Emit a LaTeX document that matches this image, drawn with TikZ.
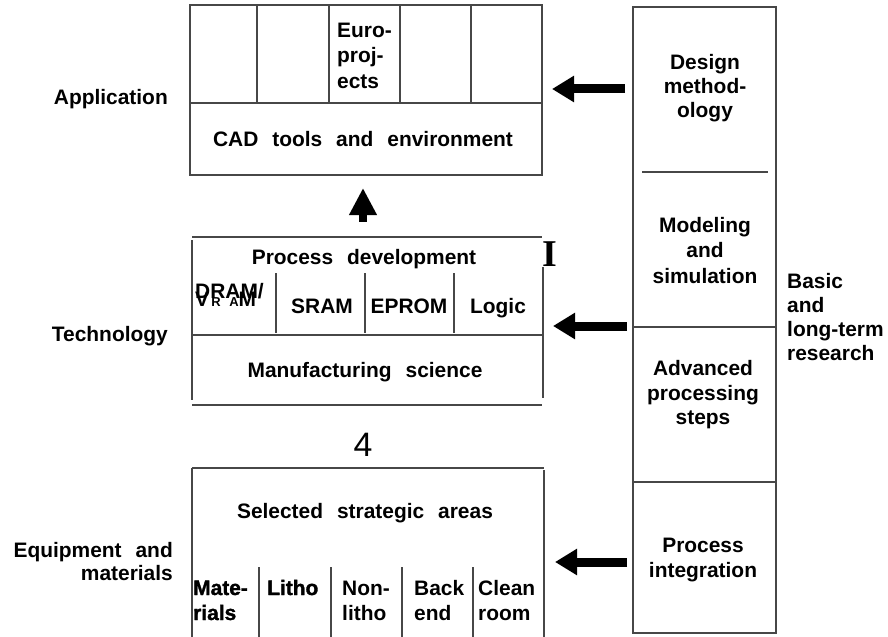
\documentclass[tikz,border=0pt]{standalone}
\usepackage{fontspec}
\setmainfont{Liberation Sans}[WordSpace=2.4]
\newfontfamily\serifbig{Liberation Serif}
\newfontfamily\plainsans{Liberation Sans}
\newfontfamily\heavysans{Liberation Sans Bold}[FakeBold=1.5]
\usetikzlibrary{arrows.meta}
\begin{document}
\begin{tikzpicture}[x=1bp,y=-1bp,
  ln/.style={draw=black!72, line width=1.3bp},
  txt/.style={font=\bfseries\fontsize{21}{25}\selectfont, inner sep=0pt, anchor=base},
  txtl/.style={txt, anchor=base west},
  txtr/.style={txt, anchor=base east},
  heavy/.style={txtl, font=\heavysans\fontsize{21}{25}\selectfont},
  bigarrow/.style={line width=9bp, -{Triangle[length=22bp,width=25bp]}, black}
]
\useasboundingbox (0,0) rectangle (888,637);

% ---------- Application box ----------
\draw[ln] (190,5) rectangle (542,175);
\draw[ln] (190,103) -- (542,103);
\foreach \x in {257,329,400,471} \draw[ln] (\x,5) -- (\x,103);
\node[txtl] (euro1) at (337,38) {Euro-};
\node[txtl] (euro2) at (337,63) {proj-};
\node[txtl] (euro3) at (337,89) {ects};
\node[txt] (cad) at (363,147) {CAD tools and environment};

% ---------- Technology box ----------
\draw[ln] (192,237) -- (542,237);
\draw[ln] (192,240) -- (192,400);
\draw[ln] (543,267) -- (543,398);
\draw[ln] (192,335) -- (542,335);
\draw[ln] (192,405) -- (542,405);
\foreach \x in {276,365,454} \draw[ln] (\x,273) -- (\x,333);
\node[txt] (procdev) at (364,265) {Process development};
\node[txtl] (dram) at (195,298) {DRAM/};
\node[txtl] (vram) at (195,306) {V{\fontsize{13}{14}\selectfont\,R A}M};
\node[txt] (sram) at (322,313) {SRAM};
\node[txt] (eprom) at (409,313) {EPROM};
\node[txt] (logic) at (498,313) {Logic};
\node[txt] (manu) at (365,377) {Manufacturing science};
\node[inner sep=0pt, font=\serifbig\bfseries\fontsize{38}{40}\selectfont] (bigI) at (550,254) {I};

% ---------- Equipment box ----------
\node[inner sep=0pt, font=\plainsans\fontsize{34}{36}\selectfont] (four) at (363,445) {4};
\draw[ln] (192,468) -- (544,468);
\draw[ln] (192,468) -- (192,637);
\draw[ln] (544,470) -- (544,637);
\foreach \x in {259,331,402,473} \draw[ln] (\x,567) -- (\x,637);
\node[txt] (ssa) at (365,518) {Selected strategic areas};
\node[heavy] (mat1) at (193,595) {Mate-};
\node[heavy] (mat2) at (193,620) {rials};
\node[heavy] (lit) at (267,595) {Litho};
\node[txtl] (non1) at (342,595) {Non-};
\node[txtl] (non2) at (342,620) {litho};
\node[txtl] (back1) at (414,595) {Back};
\node[txtl] (back2) at (414,620) {end};
\node[txtl] (cl1) at (478,595) {Clean};
\node[txtl] (cl2) at (478,620) {room};

% ---------- Left labels ----------
\node[txtr] (app) at (168,105) {Application};
\node[txtr] (tech) at (168,341) {Technology};
\node[txtr] (equ1) at (173,557) {Equipment and};
\node[txtr] (equ2) at (173,580) {materials};

% ---------- Right column ----------
\draw[ln] (633,7) rectangle (776,633);
\draw[ln] (642,172) -- (768,172);
\draw[ln] (633,327) -- (776,327);
\draw[ln] (633,482) -- (776,482);
\node[txt] (d1) at (705,70) {Design};
\node[txt] (d2) at (705,94) {method-};
\node[txt] (d3) at (705,118) {ology};
\node[txt] (m1) at (705,233) {Modeling};
\node[txt] (m2) at (705,258) {and};
\node[txt] (m3) at (705,283) {simulation};
\node[txt] (p1) at (703,375) {Advanced};
\node[txt] (p2) at (703,400) {processing};
\node[txt] (p3) at (703,424) {steps};
\node[txt] (i1) at (703,552) {Process};
\node[txt] (i2) at (703,577) {integration};
\node[txtl] (b1) at (787,288) {Basic};
\node[txtl] (b2) at (787,312) {and};
\node[txtl] (b3) at (787,336) {long-term};
\node[txtl] (b4) at (787,360) {research};

% ---------- Arrows ----------
\coordinate (a1s) at (625,89);  \coordinate (a1e) at (552,89);
\coordinate (a2s) at (627,326); \coordinate (a2e) at (553,326);
\coordinate (a3s) at (627,562); \coordinate (a3e) at (555,562);
\coordinate (a4s) at (363,222); \coordinate (a4e) at (363,188);
\draw[bigarrow] (a1s) -- (a1e);
\draw[bigarrow] (a2s) -- (a2e);
\draw[bigarrow] (a3s) -- (a3e);
\draw[line width=8bp, -{Triangle[length=27bp,width=26bp]}, black] (a4s) -- (a4e);
\end{tikzpicture}
\end{document}
